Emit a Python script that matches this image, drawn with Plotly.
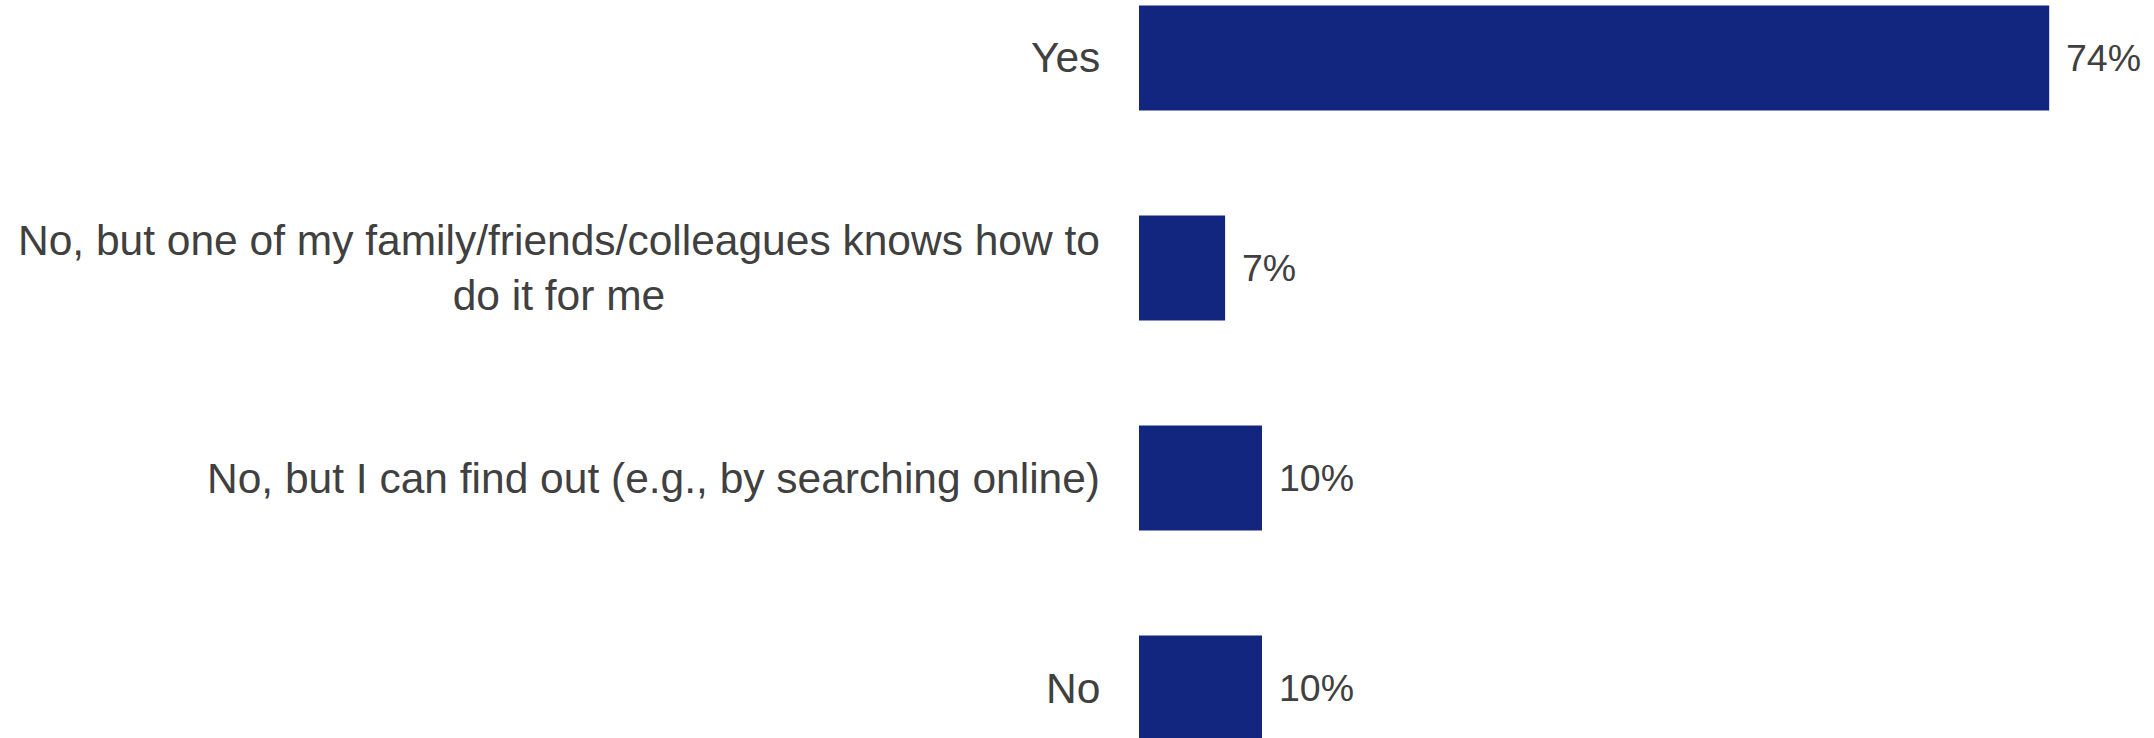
import plotly.graph_objects as go

categories = [
    "Yes",
    "No, but one of my family/friends/colleagues knows how to<br>do it for me",
    "No, but I can find out (e.g., by searching online)",
    "No",
]
values = [74, 7, 10, 10]
value_labels = ["74%", "7%", "10%", "10%"]

BAR_COLOR = "#13267F"
TEXT_COLOR = "#404040"
FONT = "Liberation Sans, Arial, sans-serif"

fig = go.Figure()
fig.add_trace(go.Bar(
    x=values,
    y=categories,
    orientation="h",
    marker=dict(color=BAR_COLOR, line=dict(width=0)),
    width=0.5,
    hoverinfo="skip",
))

annotations = []
for cat, v, lab in zip(categories, values, value_labels):
    annotations.append(dict(
        x=v, y=cat, xref="x", yref="y", text=lab, showarrow=False,
        xanchor="left", yanchor="middle", xshift=15,
        font=dict(family=FONT, size=37.5, color=TEXT_COLOR),
    ))
    annotations.append(dict(
        x=0, y=cat, xref="paper", yref="y", text=cat, showarrow=False,
        xanchor="right", yanchor="middle", xshift=-37, align="center",
        font=dict(family=FONT, size=42.5, color=TEXT_COLOR),
    ))

fig.update_layout(
    width=2154, height=738,
    margin=dict(l=1139, r=31, t=0, b=0),
    paper_bgcolor="white", plot_bgcolor="white",
    showlegend=False,
    hovermode=False,
    xaxis=dict(range=[0, 80], visible=False, fixedrange=True),
    yaxis=dict(range=[3.238, -0.276], showticklabels=False, showgrid=False,
               zeroline=False, showline=False, ticks="", fixedrange=True),
    annotations=annotations,
    font=dict(family=FONT, color=TEXT_COLOR),
)

fig.write_html(
    "out.html",
    config={"displayModeBar": False, "staticPlot": True},
    post_script="document.body.style.margin='0';document.body.style.overflow='hidden';",
)
